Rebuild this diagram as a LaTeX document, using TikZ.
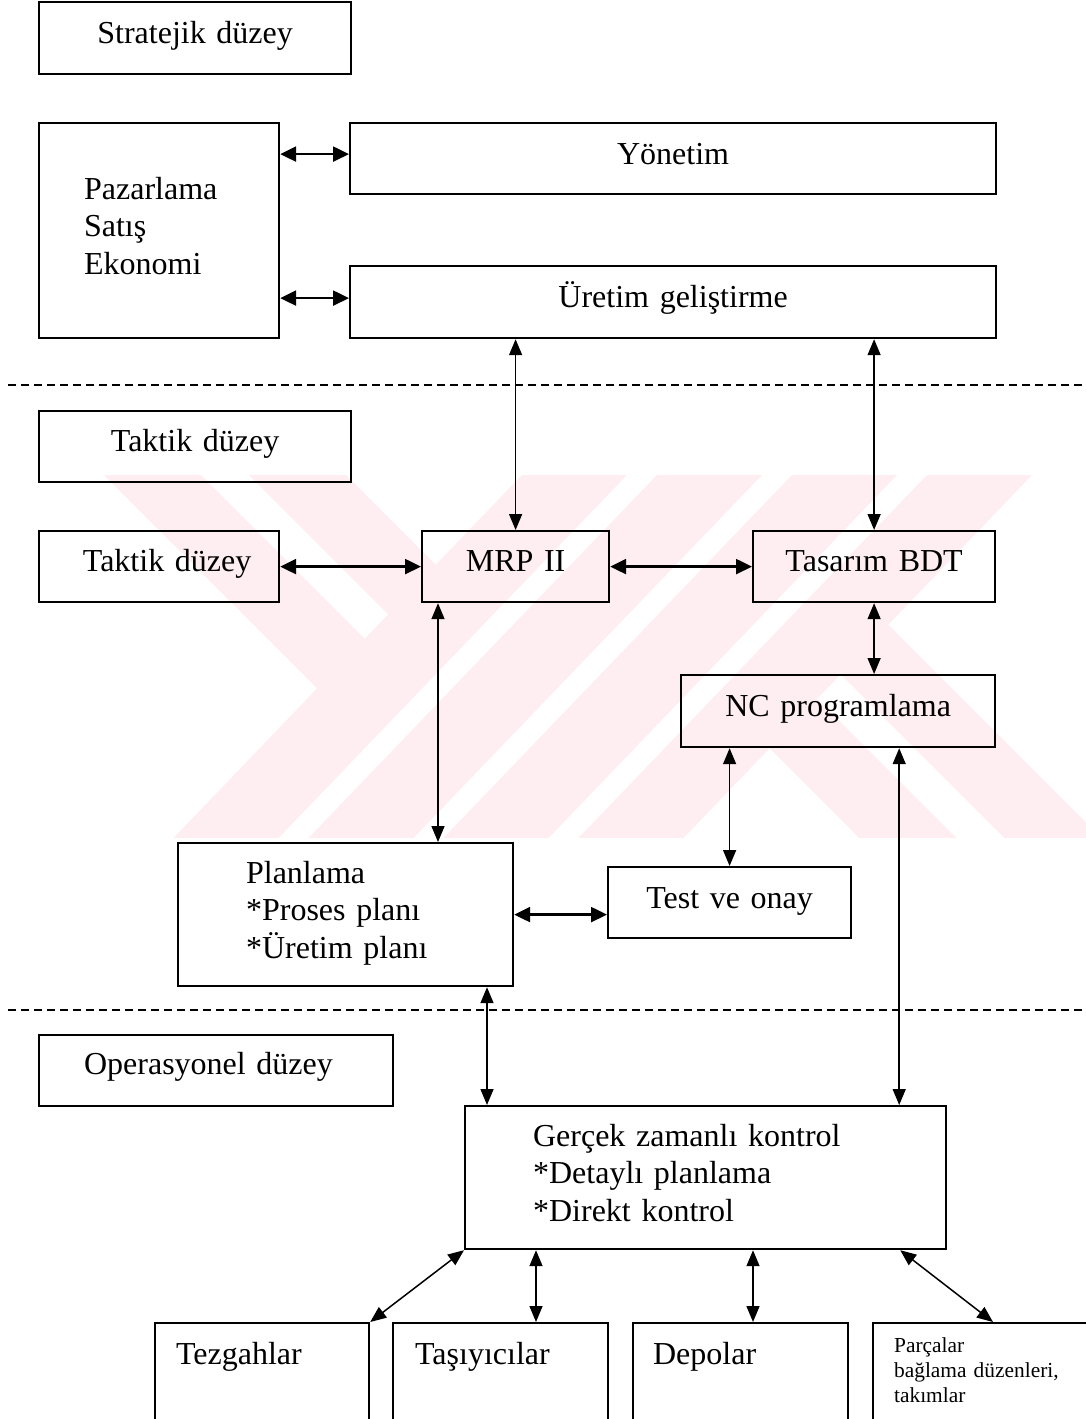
\documentclass[tikz,border=0pt]{standalone}
\usepackage{fontspec}
\setmainfont{Liberation Serif}
\usetikzlibrary{arrows.meta}
\definecolor{wmark}{RGB}{254,237,241}
\begin{document}
\begin{tikzpicture}[x=0.5pt,y=-0.5pt,
  box/.style={draw, line width=1.1pt, anchor=north west, inner ysep=0pt,
    font=\fontsize{16}{18.75}\selectfont},
  cbox/.style={box, align=center, inner xsep=0pt},
  lbox/.style={box, align=left},
  link/.style={line width=0.75pt,
    {Triangle[length=8pt,width=6.5pt]}-{Triangle[length=8pt,width=6.5pt]}},
  hlink/.style={line width=1.2pt,
    {Triangle[length=8pt,width=7.5pt]}-{Triangle[length=8pt,width=7.5pt]}},
  level/.style={line width=0.7pt, dash pattern=on 4pt off 2.5pt},
]
\useasboundingbox (0,0) rectangle (1086,1419);

% pale background emblem
\fill[wmark] (522,475) -- (627,475) -- (278.5,838) -- (173.5,838) -- cycle;
\fill[wmark] (657,475) -- (762,475) -- (413.5,838) -- (308.5,838) -- cycle;
\fill[wmark] (792,475) -- (897,475) -- (548.5,838) -- (443.5,838) -- cycle;
\fill[wmark] (927,475) -- (1032,475) -- (683.5,838) -- (578.5,838) -- cycle;
\fill[wmark] (104,475) -- (201,475) -- (364.8,638.8) -- (317.3,688.3) -- cycle;
\fill[wmark] (249,475) -- (346,475) -- (435.8,564.8) -- (388.3,614.3) -- cycle;
\fill[wmark] (1101.5,838) -- (1004.5,838) -- (840.7,674.2) -- (888.2,624.7) -- cycle;
\fill[wmark] (956.5,838) -- (859.5,838) -- (769.7,748.2) -- (817.2,698.7) -- cycle;

% level separators
\coordinate (dA1) at (8,385);  \coordinate (dA2) at (1086,385);
\coordinate (dB1) at (8,1010); \coordinate (dB2) at (1086,1010);
\draw[level] (dA1) -- (dA2);
\draw[level] (dB1) -- (dB2);

% strategic level
\node[cbox, text width=156pt, text height=20.5pt, text depth=15.5pt] (strat) at (38,1) {Stratejik düzey};
\node[lbox, inner xsep=22.5pt, text width=75pt, text height=38pt, text depth=69.5pt] (pazar) at (38,122) {Pazarlama\\Satış\\Ekonomi};
\node[cbox, text width=323pt, text height=20.5pt, text depth=15pt] (yonetim) at (349,122) {Yönetim};
\node[cbox, text width=323pt, text height=20.5pt, text depth=15.5pt] (uretim) at (349,265) {Üretim geliştirme};

% tactical level
\node[cbox, text width=156pt, text height=20pt, text depth=15.5pt] (taktikA) at (38,410) {Taktik düzey};
\node[cbox, text width=120pt, text height=20pt, text depth=15.5pt] (taktikB) at (38,530) {\hspace*{8pt}Taktik düzey};
\node[cbox, text width=93.5pt, text height=20pt, text depth=15.5pt] (mrp) at (421,530) {MRP II};
\node[cbox, text width=121pt, text height=20pt, text depth=15.5pt] (tasarim) at (752,530) {Tasarım BDT};
\node[cbox, text width=157pt, text height=20.5pt, text depth=15.5pt] (nc) at (680,674) {NC programlama};
\node[lbox, inner xsep=34pt, text width=99.5pt, text height=20pt, text depth=51.5pt] (plan) at (177,842) {Planlama\\{*}Proses planı\\{*}Üretim planı};
\node[cbox, text width=121.5pt, text height=20.5pt, text depth=15pt] (test) at (607,866) {Test ve onay};

% operational level
\node[lbox, inner xsep=22.5pt, text width=132pt, text height=19.5pt, text depth=16pt] (oper) at (38,1034) {Operasyonel düzey};
\node[lbox, inner xsep=34pt, text width=172.5pt, text height=20pt, text depth=51.5pt] (gercek) at (464,1105) {Gerçek zamanlı kontrol\\{*}Detaylı planlama\\{*}Direkt kontrol};
\node[lbox, inner xsep=10.5pt, text width=86pt, text height=20.5pt, text depth=38.5pt] (tezgah) at (154,1322) {Tezgahlar};
\node[lbox, inner xsep=11pt, text width=85.5pt, text height=20.5pt, text depth=38.5pt] (tasiyici) at (392,1322) {Taşıyıcılar};
\node[lbox, inner xsep=10pt, text width=87.5pt, text height=20.5pt, text depth=38.5pt] (depo) at (632,1322) {Depolar};
\node[lbox, inner xsep=10.5pt, text width=89pt, text height=14.5pt, text depth=44.5pt,
      font=\fontsize{10.7}{12.5}\selectfont] (parca) at (872,1322) {Parçalar\\bağlama düzenleri,\\takımlar};

% connectors
\coordinate (yw) at ([yshift=2.25pt]yonetim.west);
\coordinate (uw) at ([yshift=2pt]uretim.west);
\draw[hlink] (pazar.east |- yw) -- (yw);
\draw[hlink] (pazar.east |- uw) -- (uw);
\draw[link] (mrp.north |- uretim.south) -- (mrp.north);
\draw[link] (tasarim.north |- uretim.south) -- (tasarim.north);
\draw[hlink] (taktikB.east) -- (mrp.west);
\draw[hlink] (mrp.east) -- (tasarim.west);
\draw[link] (tasarim.south) -- (tasarim.south |- nc.north);
\coordinate (mrpd) at ([xshift=8.5pt]mrp.south west);
\draw[link] (mrpd) -- (mrpd |- plan.north);
\draw[hlink] (plan.east) -- (plan.east -| test.west);
\draw[link] (test.north) -- (test.north |- nc.south);
\coordinate (gA) at ([xshift=11.5pt]gercek.north west);
\draw[link] (gA |- plan.south) -- (gA);
\coordinate (gB) at ([xshift=-24pt]gercek.north east);
\draw[link] (gB |- nc.south) -- (gB);
\draw[link] (gercek.south west) -- (tezgah.north east);
\coordinate (gC) at ([xshift=72pt]tasiyici.north west);
\draw[link] (gC |- gercek.south) -- (gC);
\coordinate (gD) at ([xshift=60.5pt]depo.north west);
\draw[link] (gD |- gercek.south) -- (gD);
\coordinate (gE) at ([xshift=-23.5pt]gercek.south east);
\coordinate (pE) at ([xshift=60.5pt]parca.north west);
\draw[link] (gE) -- (pE);
\end{tikzpicture}
\end{document}
